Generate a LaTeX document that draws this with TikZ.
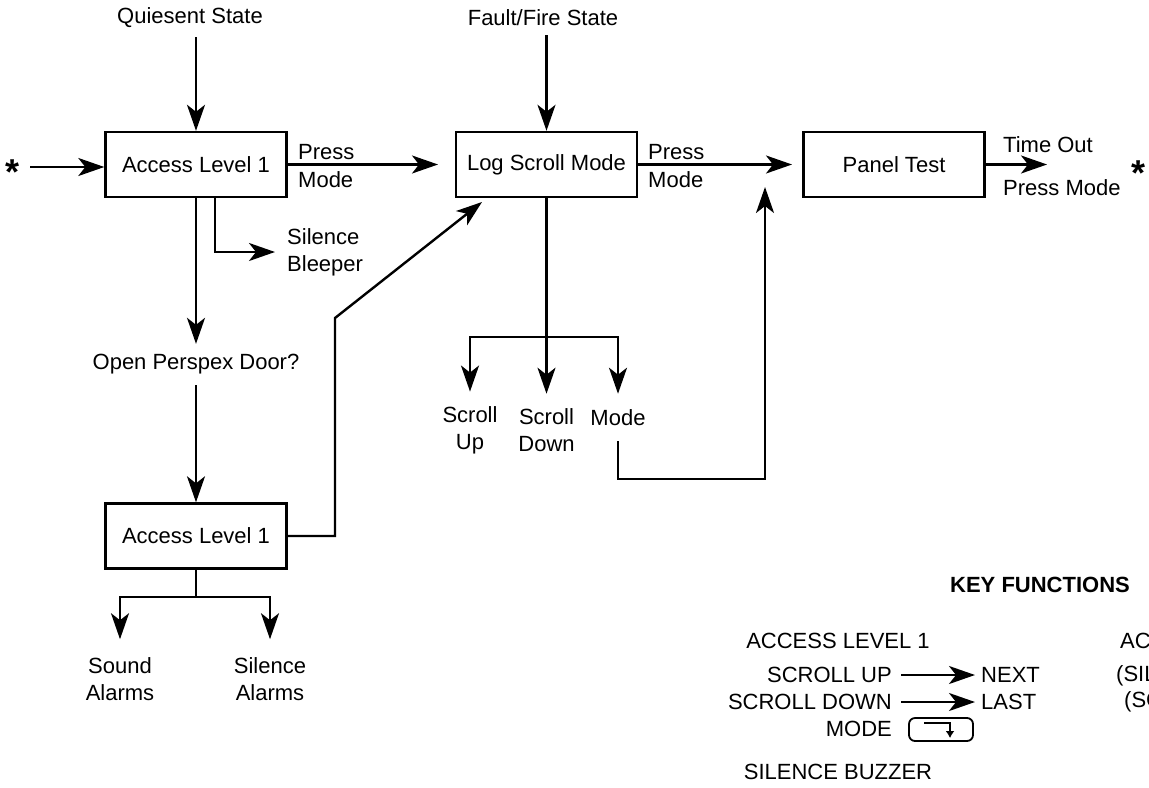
\documentclass[tikz,border=0pt]{standalone}
\usepackage{fontspec}
\setmainfont{Liberation Sans}
\usetikzlibrary{arrows.meta}
\tikzset{
  box/.style={draw, minimum width=90.5pt, minimum height=32.5pt, inner sep=0pt},
  lbl/.style={inner sep=0pt, align=center},
  star/.style={inner sep=0pt, font=\fontsize{18}{18}\selectfont\bfseries},
}
\begin{document}
\begin{tikzpicture}[>={Stealth[length=13pt, width=9pt, inset=3.5pt]}, x=0.5pt, y=-0.5pt,
    line width=1.2pt, font=\fontsize{11}{13.5}\selectfont]
  \useasboundingbox (0,0) rectangle (1149,787);
  \clip (0,0) rectangle (1149,787);
  % boxes
  \node[box] (acc) at (196,164.5) {Access Level 1};
  \node[box] (log) at (546.5,164.5) {Log Scroll Mode};
  \node[box] (test) at (894,164.5) {Panel Test};
  \node[box] (acc2) at (196,536) {Access Level 1};
  % states on top
  \node[lbl] (quies) at (190,18) {Quiesent State};
  \node[lbl] (fault) at (543,18) {Fault/Fire State};
  \draw[->, shorten <=4pt] (quies.south -| acc.north) -- (acc.north);
  \draw[->, shorten <=4pt] (fault.south -| log.north) -- (log.north);
  % top row
  \node[star] (star1) at (13,172) {*};
  \node[star] (star2) at (1138,173) {*};
  \coordinate (in1) at (30,167);
  \draw[->] (in1) -- (in1 -| acc.west);
  \coordinate (p1) at (438,0);
  \coordinate (p2) at (792,0);
  \coordinate (p3) at (1047,0);
  \draw[->] (acc.east) -- (acc.east -| p1);
  \draw[->] (log.east) -- (log.east -| p2);
  \draw[->] (test.east) -- (test.east -| p3);
  \node[lbl, anchor=west] (press1) at (297,152) {Press};
  \node[lbl, anchor=west] (mode1) at (297,180) {Mode};
  \node[lbl, anchor=west] (press2) at (647,152) {Press};
  \node[lbl, anchor=west] (mode2) at (647,180) {Mode};
  \node[lbl, anchor=west] (tout) at (1002,145) {Time Out};
  \node[lbl, anchor=west] (pmode) at (1002,188) {Press Mode};
  % left column
  \node[lbl, align=left, anchor=west] (bleep) at (286,252) {Silence\\Bleeper};
  \draw[->] ([xshift=9.5pt]acc.south) |- ([xshift=-5.5pt]bleep.west);
  \node[lbl] (door) at (196,364) {Open Perspex Door?};
  \draw[->] (acc.south) -- ([yshift=4.5pt]door.north);
  \draw[->, shorten <=5pt] (door.south) -- (acc2.north);
  \coordinate (bend) at (335,318);
  \coordinate (login) at (482,202);
  \draw[->] (acc2.east) -| (bend) -- (login);
  \node[lbl] (sound) at (120,679) {Sound\\Alarms};
  \node[lbl] (silal) at (270,679) {Silence\\Alarms};
  \coordinate (split1) at (196,597);
  \draw (acc2.south) -- (split1);
  \draw[->] (split1) -| ([yshift=8.5pt]sound.north);
  \draw[->] (split1) -| ([yshift=8.5pt]silal.north);
  % log scroll branches
  \node[lbl] (up) at (470,430) {Scroll\\Up};
  \node[lbl] (down) at (546.5,430) {Scroll\\Down};
  \node[lbl] (mode) at (618,418) {Mode};
  \coordinate (split2) at (546.5,337);
  \draw[->] (log.south) -- ([yshift=6.75pt]down.north);
  \draw[->] (split2) -| ([yshift=6.75pt]up.north);
  \draw[->] (split2) -| ([yshift=7.5pt]mode.north);
  \coordinate (turn) at (765,479);
  \coordinate (testin) at (765,187);
  \draw[->] ([yshift=-7pt]mode.south) |- (turn) -- (testin);
  % key functions
  \node[lbl, font=\fontsize{11}{13.5}\selectfont\bfseries] (keyf) at (1040,585) {KEY FUNCTIONS};
  \node[lbl] (lev1) at (838,641) {ACCESS LEVEL 1};
  \node[lbl, anchor=east] (sup) at (893,675) {SCROLL UP};
  \node[lbl, anchor=west] (next) at (980,675) {NEXT};
  \node[lbl, anchor=east] (sdown) at (893,702) {SCROLL DOWN};
  \node[lbl, anchor=west] (last) at (980,702) {LAST};
  \draw[->] ([xshift=4pt]sup.east) -- ([xshift=-2.5pt]next.west);
  \draw[->] ([xshift=4pt]sdown.east) -- ([xshift=-2.5pt]last.west);
  \node[lbl, anchor=east] (modek) at (893,729) {MODE};
  \node[draw, rounded corners=3pt, line width=0.9pt, minimum width=32pt, minimum height=11.5pt,
    inner sep=0pt] (modekey) at (941,729.5) {};
  \draw[line width=0.8pt, -{Latex[length=3.5pt, width=4.5pt]}] (924,723) -| (950,738);
  \node[lbl] (buzz) at (838,772) {SILENCE BUZZER};
  \node[lbl, anchor=west] (lev2) at (1119,641) {AC};
  \node[lbl, anchor=west] (sil2) at (1115,676) {(SIL};
  \node[lbl, anchor=west] (snd2) at (1123,702) {(SC};
\end{tikzpicture}
\end{document}
